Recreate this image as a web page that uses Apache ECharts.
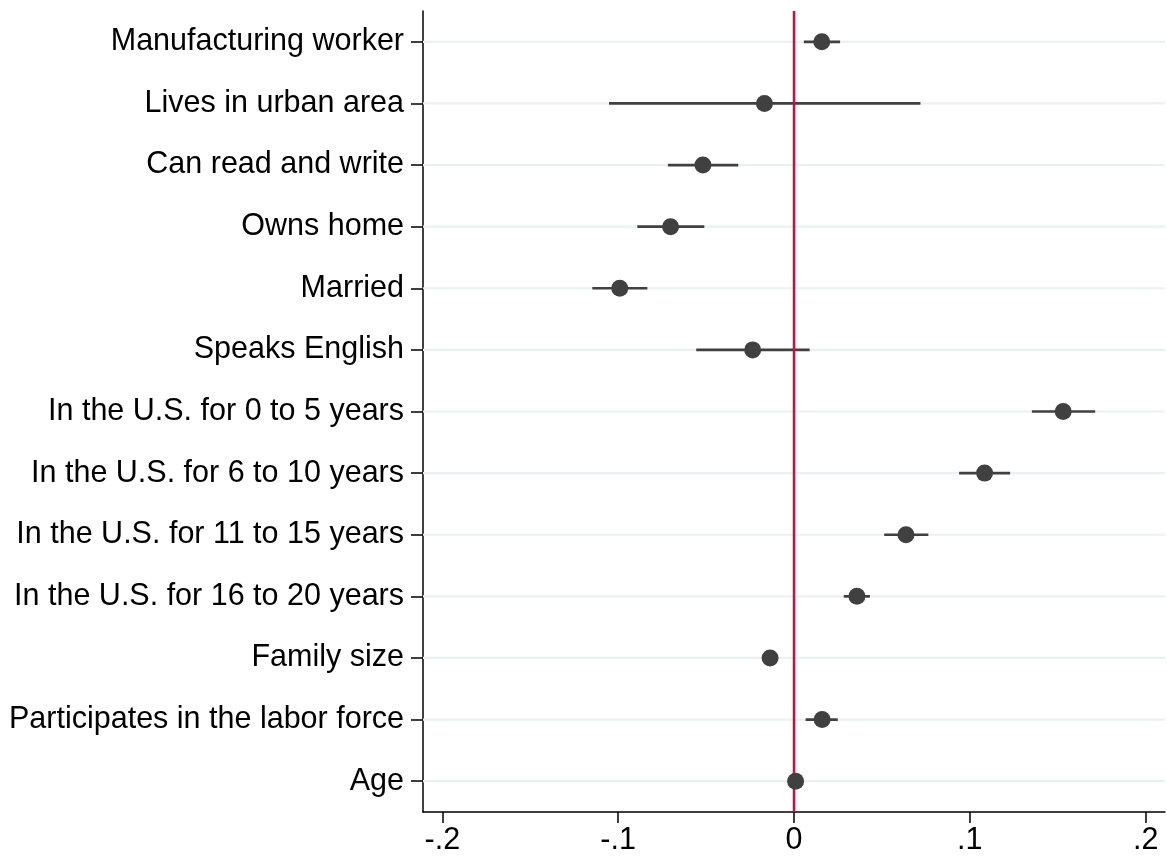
<!DOCTYPE html>
<html>
<head>
<meta charset="utf-8">
<script src="https://cdn.jsdelivr.net/npm/echarts@6/dist/echarts.min.js"></script>
<style>html,body{margin:0;padding:0;background:#fff;}#chart{width:1167px;height:860px;}</style>
</head>
<body>
<div id="chart"></div>
<script>
const categories = [
  'Manufacturing worker',
  'Lives in urban area',
  'Can read and write',
  'Owns home',
  'Married',
  'Speaks English',
  'In the U.S. for 0 to 5 years',
  'In the U.S. for 6 to 10 years',
  'In the U.S. for 11 to 15 years',
  'In the U.S. for 16 to 20 years',
  'Family size',
  'Participates in the labor force',
  'Age'
];
const estimates = [0.0158, -0.0168, -0.0518, -0.0702, -0.0991, -0.0235, 0.1531, 0.1084, 0.0637, 0.0358, -0.0136, 0.0160, 0.0009];
const ciLow     = [0.0056, -0.1052, -0.0717, -0.0891, -0.1147, -0.0556, 0.1353, 0.0939, 0.0513, 0.0283, -0.0152, 0.0066, 0.0003];
const ciHigh    = [0.0262,  0.0719, -0.0317, -0.0510, -0.0834,  0.0089, 0.1713, 0.1229, 0.0764, 0.0432, -0.0120, 0.0249, 0.0015];
const xTickValues = [-0.2, -0.1, 0, 0.1, 0.2];
const xTickLabels = ['-.2', '-.1', '0', '.1', '.2'];
const referenceLine = [0];

const chart = echarts.init(document.getElementById('chart'), null, {renderer: 'canvas'});
const fontFamily = '"Liberation Sans", Arial, sans-serif';

const option = {
  animation: false,
  backgroundColor: '#ffffff',
  grid: {left: 423, right: 2, top: 11, bottom: 48, containLabel: false},
  xAxis: {
    type: 'value',
    min: -0.211,
    max: 0.211,
    axisLine: {show: true, onZero: false, lineStyle: {color: '#000', width: 1.5}},
    axisTick: {show: true, length: 11, lineStyle: {color: '#000', width: 1.5}, customValues: xTickValues},
    axisLabel: {
      show: true, fontSize: 30.5, color: '#000', fontFamily: fontFamily, margin: 13,
      customValues: xTickValues,
      formatter: function (v) {
        const i = xTickValues.findIndex(t => Math.abs(t - v) < 1e-9);
        return i >= 0 ? xTickLabels[i] : '';
      }
    },
    splitLine: {show: false}
  },
  yAxis: {
    type: 'category',
    data: categories,
    inverse: true,
    axisLine: {show: true, onZero: false, lineStyle: {color: '#000', width: 1.5}},
    axisTick: {show: true, alignWithLabel: true, length: 12, lineStyle: {color: '#000', width: 1.5}},
    axisLabel: {show: true, fontSize: 30.5, color: '#000', fontFamily: fontFamily, margin: 19},
    splitLine: {show: false}
  },
  series: [
    {
      type: 'custom',
      name: 'grid',
      z: 1,
      silent: true,
      data: categories.map((c, i) => [i]),
      encode: {y: 0},
      renderItem: function (params, api) {
        const cs = params.coordSys;
        const y = api.coord([0, api.value(0)])[1];
        return {
          type: 'line',
          shape: {x1: cs.x, y1: y, x2: cs.x + cs.width, y2: y},
          style: {stroke: '#e9f1f4', lineWidth: 2.2}
        };
      }
    },
    {
      type: 'custom',
      name: 'ci',
      z: 2,
      data: categories.map((c, i) => [ciLow[i], ciHigh[i], i]),
      encode: {x: [0, 1], y: 2},
      renderItem: function (params, api) {
        const a = api.coord([api.value(0), api.value(2)]);
        const b = api.coord([api.value(1), api.value(2)]);
        return {
          type: 'line',
          shape: {x1: a[0], y1: a[1], x2: b[0], y2: b[1]},
          style: {stroke: '#404040', lineWidth: 2.7}
        };
      }
    },
    {
      type: 'custom',
      name: 'ref',
      z: 3,
      silent: true,
      data: referenceLine.map(v => [v]),
      encode: {x: 0},
      renderItem: function (params, api) {
        const cs = params.coordSys;
        const x = api.coord([api.value(0), 0])[0];
        return {
          type: 'line',
          shape: {x1: x, y1: cs.y, x2: x, y2: cs.y + cs.height},
          style: {stroke: '#c8103c', lineWidth: 2.5}
        };
      }
    },
    {
      type: 'scatter',
      name: 'est',
      z: 4,
      symbol: 'circle',
      symbolSize: 17,
      itemStyle: {color: '#404040', opacity: 1},
      data: categories.map((c, i) => [estimates[i], i])
    }
  ]
};
chart.setOption(option);
</script>
</body>
</html>
